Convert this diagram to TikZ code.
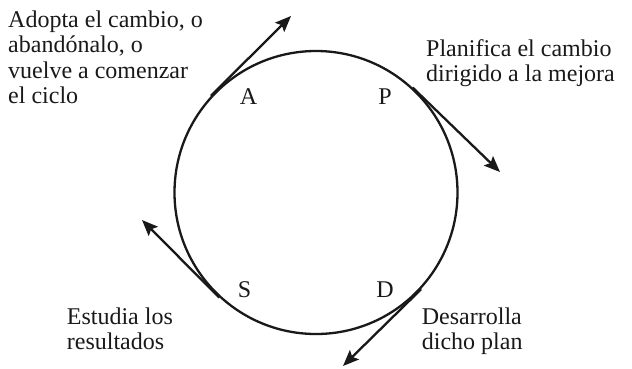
\documentclass[tikz,border=0pt]{standalone}
\usepackage{fontspec}
\setmainfont{Liberation Serif}
\usetikzlibrary{arrows.meta,calc}
\begin{document}
\begin{tikzpicture}[x=1pt,y=-1pt,
  every node/.style={font=\fontsize{24}{25.5}\selectfont, inner sep=0pt, text=black!90},
  txt/.style={anchor=base west, align=left},
  lbl/.style={anchor=base},
  ring/.style={draw=black!90, line width=2.3pt, circle, minimum size=283pt},
  arr/.style={draw=black!90, line width=2.3pt, -{Stealth[length=16pt,width=13pt,inset=3pt]}}]
\useasboundingbox (0,0) rectangle (632,368);
\node[ring] (cyc) at (316,192.5) {};
\coordinate (tA) at (291,16);
\coordinate (tP) at (500,172);
\coordinate (tS) at (142,220);
\coordinate (tD) at (343,366);
\draw[arr] ($(cyc.135)!-6pt!(tA)$) -- (tA);
\draw[arr] ($(cyc.45)!-6pt!(tP)$) -- (tP);
\draw[arr] ($(cyc.225)!-6pt!(tS)$) -- (tS);
\draw[arr] ($(cyc.315)!-6pt!(tD)$) -- (tD);
\node[lbl] (la) at (248.5,104) {A};
\node[lbl] (lp) at (385,104) {P};
\node[lbl] (ls) at (244.5,297) {S};
\node[lbl] (ld) at (385,297.5) {D};
% base anchor = baseline of the last line
\node[txt] (xa) at (8,103.5) {Adopta el cambio, o\\abandónalo, o\\vuelve a comenzar\\el ciclo};
\node[txt] (xp) at (426,81.5) {Planifica el cambio\\dirigido a la mejora};
\node[txt] (xs) at (66.7,349.5) {Estudia los\\resultados};
\node[txt] (xd) at (421.7,349.5) {Desarrolla\\dicho plan};
\end{tikzpicture}
\end{document}
